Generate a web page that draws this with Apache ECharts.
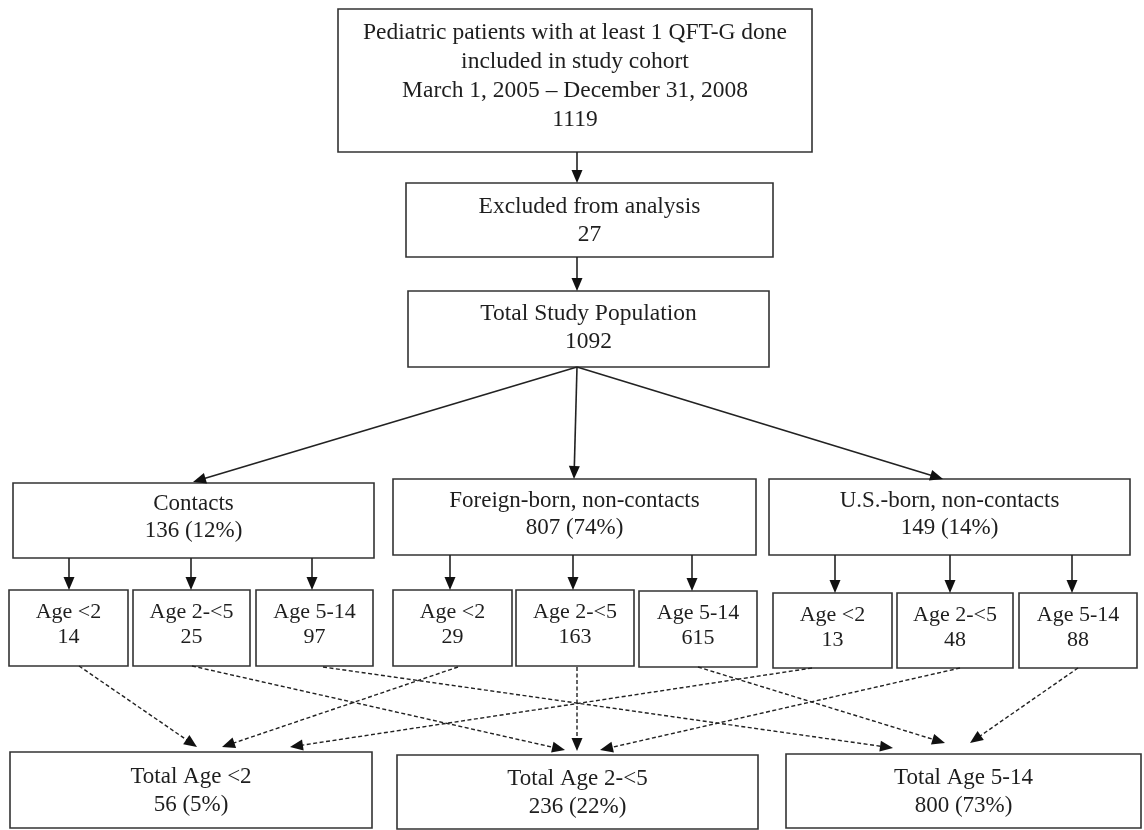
<!DOCTYPE html>
<html>
<head>
<meta charset="utf-8">
<script src="https://cdn.jsdelivr.net/npm/echarts@6/dist/echarts.min.js"></script>
<style>html,body{margin:0;padding:0;background:#fff}#chart{width:1144px;height:830px}</style>
</head>
<body>
<div id="chart"></div>
<script>
// ---- DATA ----
const nodeTitles = [
  'Pediatric patients with at least 1 QFT-G done\nincluded in study cohort\nMarch 1, 2005 – December 31, 2008',
  'Excluded from analysis',
  'Total Study Population',
  'Contacts', 'Foreign-born, non-contacts', 'U.S.-born, non-contacts',
  'Age <2', 'Age 2-<5', 'Age 5-14',
  'Age <2', 'Age 2-<5', 'Age 5-14',
  'Age <2', 'Age 2-<5', 'Age 5-14',
  'Total Age <2', 'Total Age 2-<5', 'Total Age 5-14'
];
const nodeCounts = [1119, 27, 1092, 136, 807, 149, 14, 25, 97, 29, 163, 615, 13, 48, 88, 56, 236, 800];
const nodePercents = ['', '', '', '12%', '74%', '14%', '', '', '', '', '', '', '', '', '', '5%', '22%', '73%'];
const solidLinks = [[0,1],[1,2],[2,3],[2,4],[2,5],[3,6],[3,7],[3,8],[4,9],[4,10],[4,11],[5,12],[5,13],[5,14]];
const dashedLinks = [[6,15],[7,16],[8,17],[9,15],[10,16],[11,17],[12,15],[13,16],[14,17]];

// ---- LAYOUT (pixel space of the hidden axes) ----
const boxLayout = [
  [338, 9, 812, 152], [406, 183, 773, 257], [408, 291, 769, 367],
  [13, 483, 374, 558], [393, 479, 756, 555], [769, 479, 1130, 555],
  [9, 590, 128, 666], [133, 590, 250, 666], [256, 590, 373, 666],
  [393, 590, 512, 666], [516, 590, 634, 666], [639, 591, 757, 667],
  [773, 593, 892, 668], [897, 593, 1013, 668], [1019, 593, 1137, 668],
  [10, 752, 372, 828], [397, 755, 758, 829], [786, 754, 1141, 828]
];
const boxTextLayout = [ // [textCenterOffsetY, lineHeight, fontSize]
  [-4, 29, 23.5], [1, 28, 23.5], [-1, 28, 23.5], [-3, 27, 23], [-3, 27, 23], [-3, 27, 23],
  [-3, 25, 22], [-3, 25, 22], [-3, 25, 22], [-3, 25, 22], [-3, 25, 22], [-3, 25, 22], [-3, 25, 22], [-3, 25, 22], [-3, 25, 22],
  [1, 28, 23], [1, 28, 23], [1, 28, 23]
];
const solidAnchors = [
  [[577,152],[577,183]], [[577,257],[577,291]],
  [[577,367],[193,482]], [[577,367],[574,479]], [[577,367],[943,479]],
  [[69,558],[69,590]], [[191,558],[191,590]], [[312,558],[312,590]],
  [[450,555],[450,590]], [[573,555],[573,590]], [[692,555],[692,591]],
  [[835,555],[835,593]], [[950,555],[950,593]], [[1072,555],[1072,593]]
];
const dashedAnchors = [
  [[79,666],[197,747]], [[192,666],[565,750]], [[323,667],[893,748]],
  [[458,667],[222,747]], [[577,667],[577,751]], [[698,667],[945,743]],
  [[812,668],[290,747]], [[960,668],[600,750]], [[1078,668],[970,743]]
];

const FONT = '"Liberation Serif", "Times New Roman", serif';
const INK = '#222';

function nodeText(i) {
  let t = nodeTitles[i] + '\n' + nodeCounts[i];
  if (nodePercents[i]) t += ' (' + nodePercents[i] + ')';
  return t;
}

function arrowItem(api, p0, p1, dashed) {
  const a = api.coord(p0), b = api.coord(p1);
  const dx = b[0] - a[0], dy = b[1] - a[1];
  const len = Math.sqrt(dx * dx + dy * dy);
  const ux = dx / len, uy = dy / len;
  const L = 13, W = 5.5;
  const bx = b[0] - ux * L, by = b[1] - uy * L;
  const px = -uy, py = ux;
  return {
    type: 'group',
    children: [
      { type: 'line', shape: { x1: a[0], y1: a[1], x2: bx + ux * 2, y2: by + uy * 2 },
        style: { stroke: INK, lineWidth: dashed ? 1.4 : 1.6, lineDash: dashed ? [4, 2.5] : null } },
      { type: 'polygon', shape: { points: [[b[0], b[1]], [bx + px * W, by + py * W], [bx - px * W, by - py * W]] },
        style: { fill: '#111', stroke: null } }
    ]
  };
}

const chart = echarts.init(document.getElementById('chart'), null, { renderer: 'canvas' });
chart.setOption({
  backgroundColor: '#fff',
  animation: false,
  grid: { left: 0, right: 0, top: 0, bottom: 0 },
  xAxis: { type: 'value', min: 0, max: 1144, show: false },
  yAxis: { type: 'value', min: 0, max: 830, inverse: true, show: false },
  series: [
    {
      type: 'custom', coordinateSystem: 'cartesian2d', silent: true,
      data: nodeTitles.map((_, i) => [i]),
      renderItem: function (params, api) {
        const i = params.dataIndex;
        const b = boxLayout[i];
        const p0 = api.coord([b[0], b[1]]), p1 = api.coord([b[2], b[3]]);
        const tl = boxTextLayout[i];
        return {
          type: 'group',
          children: [
            { type: 'rect', shape: { x: p0[0], y: p0[1], width: p1[0] - p0[0], height: p1[1] - p0[1] },
              style: { fill: '#fff', stroke: '#333', lineWidth: 1.6 } },
            { type: 'text', style: {
                text: nodeText(i), x: (p0[0] + p1[0]) / 2, y: (p0[1] + p1[1]) / 2 + tl[0],
                align: 'center', verticalAlign: 'middle', fill: '#1e1e1e',
                fontFamily: FONT, fontSize: tl[2], lineHeight: tl[1] } }
          ]
        };
      }
    },
    {
      type: 'custom', coordinateSystem: 'cartesian2d', silent: true,
      data: solidLinks.map((l, i) => [i, l[0], l[1]]),
      renderItem: function (params, api) {
        const s = solidAnchors[params.dataIndex];
        return arrowItem(api, s[0], s[1], false);
      }
    },
    {
      type: 'custom', coordinateSystem: 'cartesian2d', silent: true,
      data: dashedLinks.map((l, i) => [i, l[0], l[1]]),
      renderItem: function (params, api) {
        const s = dashedAnchors[params.dataIndex];
        return arrowItem(api, s[0], s[1], true);
      }
    }
  ]
});
</script>
</body>
</html>
